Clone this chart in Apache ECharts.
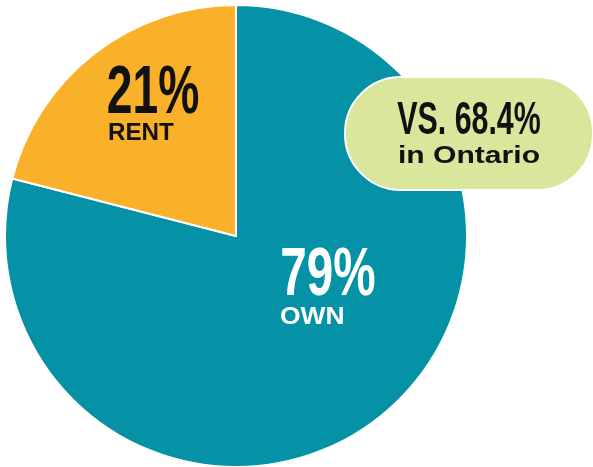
<!DOCTYPE html>
<html>
<head>
<meta charset="utf-8">
<script src="https://cdn.jsdelivr.net/npm/echarts@6/dist/echarts.min.js"></script>
<style>
  html, body { margin: 0; padding: 0; background: #fff; }
  #chart { width: 593px; height: 467px; }
</style>
</head>
<body>
<div id="chart"></div>
<script>
const categories = ['OWN', 'RENT']
const shares = [79, 21]
const colors = ['#0592a6', '#f9b129']
const ontarioShare = 68.4

const sans = '"Liberation Sans", Arial, sans-serif'
const chart = echarts.init(document.getElementById('chart'))

// bold sans text, squeezed or stretched horizontally around x
function txt(x, y, text, size, fill, sx, align) {
  return {
    type: 'text', x: x, y: y, z: 100, scaleX: sx, scaleY: 1,
    style: { text: text, font: 'bold ' + size + 'px ' + sans, fill: fill, align: align || 'center', verticalAlign: 'bottom' },
  }
}

chart.setOption({
  backgroundColor: '#fff',
  animation: false,
  series: [
    {
      type: 'pie',
      center: [236, 236],
      radius: [0, 231],
      startAngle: 90,
      clockwise: true,
      label: { show: false },
      labelLine: { show: false },
      itemStyle: { borderColor: '#fff', borderWidth: 2 },
      data: categories.map((c, i) => ({ name: c, value: shares[i], itemStyle: { color: colors[i] } })),
    },
  ],
  graphic: [
    // own label
    txt(328, 310, shares[0] + '%', 68, '#fff', 0.7),
    txt(280, 329, categories[0], 23, '#fff', 1.15, 'left'),
    // rent label
    txt(153, 128, shares[1] + '%', 69, '#111', 0.67),
    txt(108, 146, categories[1], 23.5, '#111', 1.03, 'left'),
    // callout pill
    {
      type: 'rect', z: 90,
      shape: { x: 345, y: 77, width: 248, height: 113, r: 56 },
      style: { fill: '#d9e69b', stroke: '#fff', lineWidth: 2 },
    },
    txt(469, 144, 'VS. ' + ontarioShare + '%', 46, '#111', 0.66),
    txt(469, 169, 'in Ontario', 23.5, '#111', 1.28),
  ],
})
</script>
</body>
</html>
